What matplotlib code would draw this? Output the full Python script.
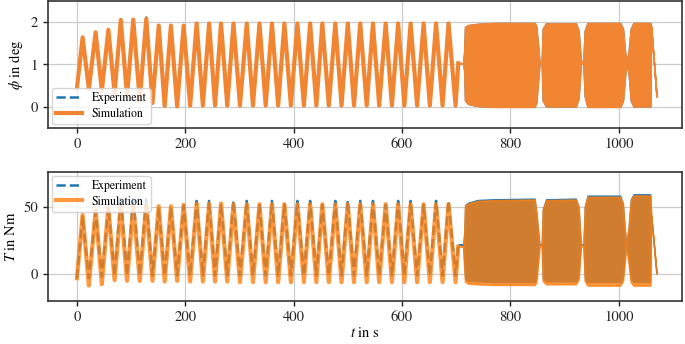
import matplotlib
matplotlib.use("Agg")
import matplotlib.pyplot as plt

# slow oscillation: times of the peaks and troughs (s)
peak_t = [10.5, 34.5, 58, 81, 104, 128, 151, 173.5, 197, 221, 244, 266, 289, 313.5,
          337, 360, 383, 407, 430.5, 453, 477, 500, 523, 546.5, 570, 593, 616, 640, 663, 686]
trough_t = [22, 46, 69.5, 92.5, 116, 139.5, 162, 185, 209, 232.5, 255, 277.5, 301, 325,
            348.5, 371.5, 395, 419, 442, 465, 488.5, 511.5, 535, 558, 581.5, 604.5, 628, 651.5, 675, 699]

phi_start = 0.44
phi_peak_sim = [1.64, 1.76, 1.82, 2.05, 2.06, 2.08, 1.92, 1.92, 1.92] + [1.97] * 21
phi_peak_exp = [1.64, 1.76, 1.82, 2.07, 2.07, 2.11, 1.92, 1.92, 1.92] + [1.97] * 21
phi_trough_sim = [0.42, 0.38, 0.33, 0.25, 0.15, 0.09, 0.02, 0.01] + [0.03] * 22
phi_trough_exp = phi_trough_sim

T_start = -3.0
T_peak_sim = [44, 47.5, 50, 50.5, 50.5, 51.5, 50.5, 50.5, 51.5, 52.5, 52.5, 52.5, 52,
              52, 52, 52, 52, 52, 52, 52, 52, 52, 52, 52, 52, 52, 52, 52, 52, 52]
T_peak_exp = [43, 46.5, 50, 58, 58, 56.5, 49.5, 49.5, 51, 54.5, 54.5, 52, 54.5,
              54.5, 51.5, 54.5, 52, 54.5, 54.5, 51.5, 54.5, 54.5, 54.5, 54.5, 51.5, 54.5, 54.5, 51.5, 54.5, 54.5]
T_trough_sim = [-8.5, -7.5, -4.5, -5, -5, -5, -5.5, -5, -5.5, -5.5, -5.5, -5.5, -6, -6, -6,
                -6, -6, -6, -6, -6, -6, -6, -6, -6, -6, -6, -6, -6, -6, -6]
T_trough_exp = [-3, -2, -1, -1, -1, -1, -1, -1, -1, -1, -1, -1, -1, -1, -1,
                -1, -1, -1, -1, -1, -1, -1, -1, -1, -1, -1, -1, -1, -1, -1]

# fast oscillation (t > 700 s): envelope of the dense bands
dense_t = [704, 713, 715, 716.5, 722, 740, 770, 845, 848, 854, 858, 860, 866, 921, 926, 930.5,
           935, 937.5, 942.5, 1003, 1008, 1011, 1014, 1018.5, 1022.5, 1027.5, 1058.5, 1060, 1070]
phi_up = [1.03, 1.03, 1.3, 1.89, 1.93, 1.96, 1.98, 1.98, 1.9, 1.05, 1.05, 1.85, 1.97, 1.97, 1.8,
          1.05, 1.1, 1.8, 1.98, 1.98, 1.85, 1.4, 1.05, 1.3, 1.85, 1.98, 1.98, 1.9, 0.25]
phi_lo = [1.03, 1.03, 0.85, 0.15, 0.07, 0.02, 0.0, 0.0, 0.1, 1.05, 1.05, 0.15, 0.01, 0.01, 0.2,
          1.05, 1.0, 0.25, 0.0, 0.0, 0.15, 0.6, 1.05, 0.8, 0.15, 0.01, 0.01, 1.9, 0.25]
T_sim_up = [20.5, 20.5, 30, 51, 52.5, 54.5, 55, 55.5, 46, 21, 21, 48, 55, 55.5, 50, 21,
            21, 50, 57.5, 57.5, 52, 35, 21, 35, 55, 58.5, 58.5, 44, 0.5]
T_sim_lo = [20.5, 20.5, 5, -5.5, -7, -7.5, -8, -8, -6, 21, 21, -5, -7.5, -7.5, -4, 21,
            21, -5, -8.5, -8.5, -5, 8, 21, 8, -6, -8.5, -8.5, 44, 0.5]
T_exp_up = [22, 22, 30.5, 51.5, 53.2, 55.3, 55.8, 56.3, 46.5, 22, 22, 48.5, 55.8, 56.3, 50.5, 22,
            22, 50.5, 58.5, 58.5, 52.5, 35.5, 22, 35.5, 55.8, 59.5, 59.5, 44.5, 0.7]
T_exp_lo = [22, 22, 7, -3.5, -5, -5.5, -6, -6, -4, 22, 22, -3, -5.5, -5.5, -2, 22,
            22, -3, -6, -6, -3, 10, 22, 10, -4, -6, -6, 44.5, 0.7]

BLUE = "#1f77b4"
ORANGE = "#ff7f0e"
ORANGE_TOP = "#f28532"

plt.rcParams["font.family"] = ["STIXGeneral", "DejaVu Serif"]
plt.rcParams["mathtext.fontset"] = "stix"


def zigzag(start, peaks, troughs, end_val):
    t = [0.0]
    v = [start]
    for tp, p, tt, q in zip(peak_t, peaks, trough_t, troughs):
        t += [tp, tt]
        v += [p, q]
    t.append(dense_t[0])
    v.append(end_val)
    return t, v


fig = plt.figure(figsize=(6.85, 3.44), dpi=100)
ax1 = fig.add_axes([0.070, 0.628, 0.9256, 0.369])
ax2 = fig.add_axes([0.070, 0.125, 0.9256, 0.375], sharex=ax1)

for ax in (ax1, ax2):
    ax.grid(True, color="#cccccc", linewidth=0.9)
    ax.set_axisbelow(True)
    for s in ax.spines.values():
        s.set_color("#333333")
        s.set_linewidth(1.2)
    ax.tick_params(colors="#222222", labelsize=10.5, length=3.5, width=1)

# top: angle
t, v = zigzag(phi_start, phi_peak_exp, phi_trough_exp, phi_up[0])
ax1.plot(t, v, "--", color=BLUE, lw=1.8, label="Experiment")
ax1.fill_between(dense_t, phi_lo, phi_up, color=BLUE, lw=1)
t, v = zigzag(phi_start, phi_peak_sim, phi_trough_sim, phi_up[0])
ax1.plot(t, v, "-", color=ORANGE_TOP, lw=3, label="Simulation", solid_joinstyle="round")
ax1.fill_between(dense_t, phi_lo, phi_up, color=ORANGE_TOP, lw=1.2)
ax1.set_ylim(-0.5, 2.5)
ax1.set_yticks([0, 1, 2])
ax1.set_ylabel(r"$\phi$ in deg", fontsize=10.5)
ax1.legend(loc="lower left", fontsize=8.5, handlelength=2.2, borderpad=0.35,
           labelspacing=0.3, borderaxespad=0.35)
ax1.tick_params(labelbottom=True)

# bottom: torque
t, v = zigzag(T_start, T_peak_exp, T_trough_exp, T_exp_up[0])
ax2.plot(t, v, "--", color=BLUE, lw=1.8, label="Experiment")
ax2.fill_between(dense_t, T_exp_lo, T_exp_up, color=BLUE, lw=0.8)
t, v = zigzag(T_start, T_peak_sim, T_trough_sim, T_sim_up[0])
ax2.plot(t, v, "-", color=ORANGE, lw=3, alpha=0.8, label="Simulation", solid_joinstyle="round")
ax2.fill_between(dense_t, T_sim_lo, T_sim_up, color=ORANGE, alpha=0.8, lw=1.2)
ax2.set_ylim(-20, 76)
ax2.set_yticks([0, 50])
ax2.set_ylabel(r"$T$ in Nm", fontsize=10.5)
ax2.set_xlabel(r"$t$ in s", fontsize=10.5, labelpad=1)
ax2.legend(loc="upper left", fontsize=8.5, handlelength=2.2, borderpad=0.35,
           labelspacing=0.3, borderaxespad=0.35)

ax1.set_xlim(-53.5, 1117)
ax2.set_xticks([0, 200, 400, 600, 800, 1000])

fig.savefig("out.png", dpi=100)
